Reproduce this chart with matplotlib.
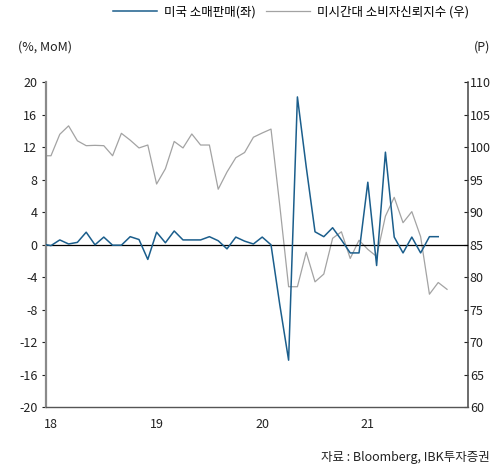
import numpy as np
import pandas as pd
import matplotlib
matplotlib.use('Agg')
import matplotlib.pyplot as plt

plt.rcParams['font.family'] = ['Noto Sans CJK KR', 'DejaVu Sans']
plt.rcParams['axes.unicode_minus'] = False

# monthly series, Dec 2017 onward
retail_months = pd.date_range('2017-12-01', periods=46, freq='MS')
retail_sales = [0.1,
                -0.1, 0.6, 0.1, 0.3, 1.55, 0.0, 0.95, -0.05, -0.05, 1.0, 0.65, -1.8,
                1.55, 0.25, 1.7, 0.6, 0.6, 0.6, 1.0, 0.5, -0.5, 0.95, 0.45, 0.1,
                0.95, 0.0, -7.4, -14.2, 18.2, 9.6, 1.6, 1.0, 2.1, 0.6, -1.0, -1.0,
                7.7, -2.55, 11.4, 0.95, -1.0, 0.95, -1.0, 1.0, 1.0]

sentiment_months = pd.date_range('2017-12-01', periods=47, freq='MS')
sentiment = [98.7,
             98.7, 102.0, 103.3, 101.0, 100.25, 100.3, 100.25, 98.7, 102.15, 101.1, 99.9, 100.35,
             94.35, 96.7, 100.9, 99.9, 102.05, 100.35, 100.35, 93.55, 96.2, 98.4, 99.2, 101.55,
             102.2, 102.8, 91.0, 78.55, 78.55, 83.85, 79.3, 80.5, 86.0, 87.0, 82.9, 85.7,
             84.3, 83.2, 89.4, 92.3, 88.4, 90.1, 86.25, 77.4, 79.2, 78.15]

year_labels = ['18', '19', '20', '21']

BLUE = '#1b5e8c'
GRAY = '#a3a3a3'


def month_pos(idx):
    return (idx.year - 2018) * 12 + idx.month - 1


fig = plt.figure(figsize=(4.93, 4.70), dpi=100)
ax = fig.add_axes([0.0927, 0.1334, 0.8560, 0.6915])
ax2 = ax.twinx()
ax.set_zorder(ax2.get_zorder() + 1)
ax.patch.set_visible(False)

ax.axhline(0, color='black', linewidth=0.9, zorder=1)
ln1, = ax.plot(month_pos(retail_months), retail_sales, color=BLUE, linewidth=1.1,
               label='미국 소매판매(좌)', zorder=3)
ln2, = ax2.plot(month_pos(sentiment_months), sentiment, color=GRAY, linewidth=0.9,
                label='미시간대 소비자신뢰지수 (우)')

ax.set_xlim(-0.6, 47.35)
ax.set_ylim(-20, 20)
ax.set_yticks(np.arange(-20, 21, 4))
ax2.set_ylim(60, 110)
ax2.set_yticks(np.arange(60, 111, 5))

ax.set_xticks([0, 12, 24, 36])
ax.set_xticklabels(year_labels)

ax.tick_params(axis='x', length=0, pad=8, labelsize=9, colors='#222222')
ax.tick_params(axis='y', direction='out', length=3, width=0.8, pad=3,
               labelsize=9, colors='#222222')
ax2.tick_params(axis='y', direction='in', length=3, width=0.8, pad=1.5,
                labelsize=9, colors='#222222')

for side in ['top', 'right']:
    ax.spines[side].set_visible(False)
for side in ['top', 'left', 'bottom']:
    ax2.spines[side].set_visible(False)
ax.spines['left'].set_color('#8a8a8a')
ax.spines['left'].set_linewidth(1.6)
ax.spines['bottom'].set_color('#555555')
ax.spines['bottom'].set_linewidth(1.0)
ax2.spines['right'].set_color('#444444')
ax2.spines['right'].set_linewidth(1.1)

fig.text(18 / 493, 1 - 47 / 470, '(%, MoM)', fontsize=9, va='center', ha='left', color='#222222')
fig.text(490 / 493, 1 - 47 / 470, '(P)', fontsize=9, va='center', ha='right', color='#222222')
fig.text(490 / 493, 1 - 458 / 470, '자료 : Bloomberg, IBK투자증권', fontsize=9,
         va='center', ha='right', color='#222222')

fig.legend(handles=[ln1, ln2], loc='center left', bbox_to_anchor=(113 / 493, 1 - 12 / 470),
           ncol=2, frameon=False, fontsize=9, handlelength=3.5, handletextpad=0.6,
           columnspacing=0.8, borderpad=0, borderaxespad=0)

fig.savefig('out.png', dpi=100)
